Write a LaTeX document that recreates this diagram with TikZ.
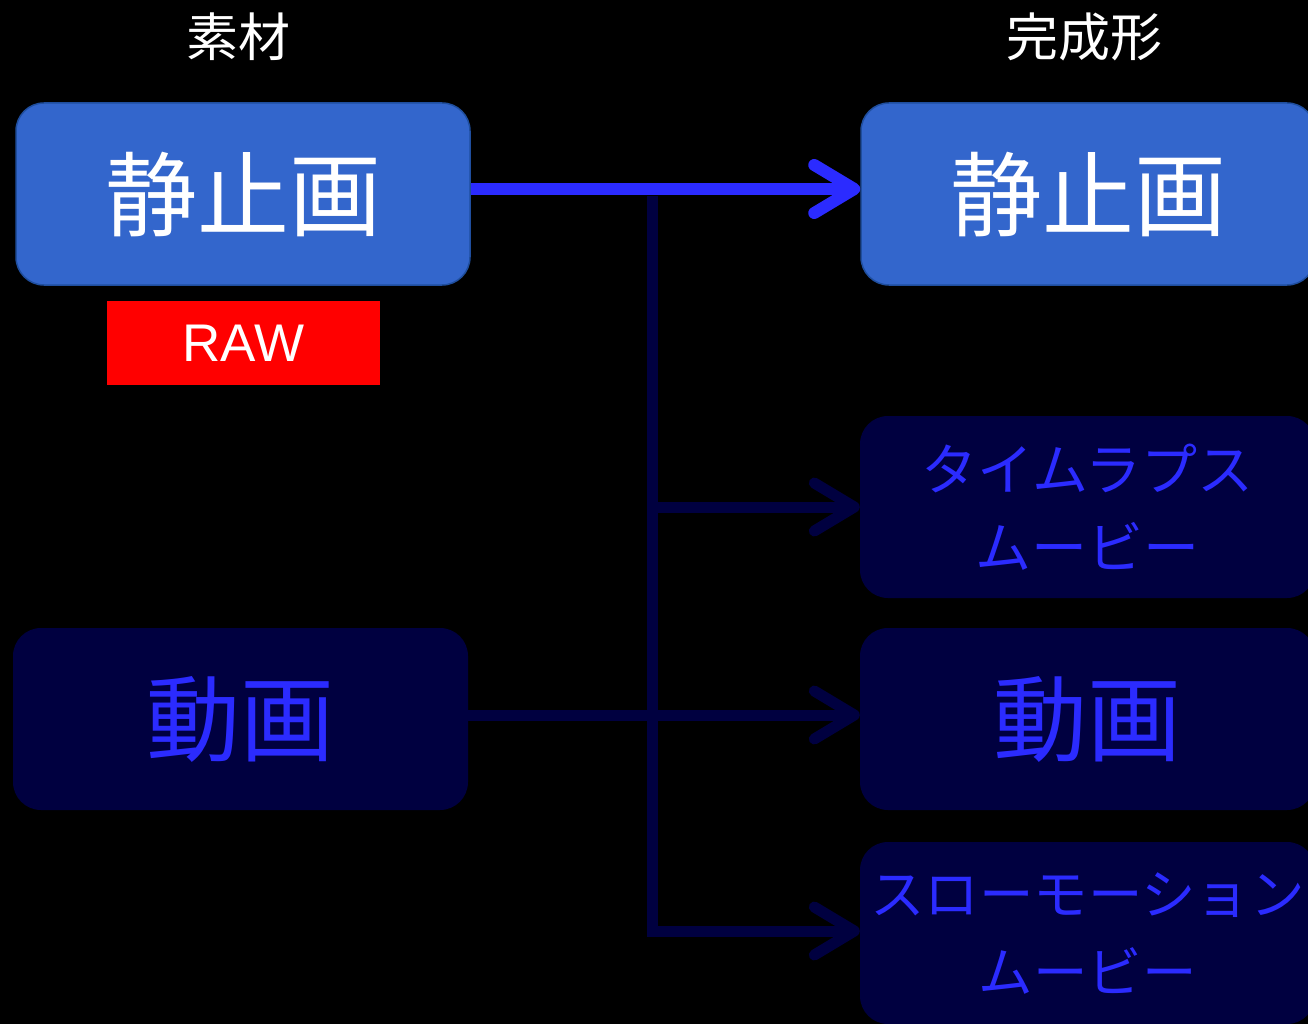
\documentclass[tikz,border=0pt]{standalone}
\usepackage{fontspec}
\newfontfamily\jp{Noto Sans CJK JP}
\newfontfamily\arialfont{Liberation Sans}
\usetikzlibrary{arrows.meta}
\definecolor{lightblue}{HTML}{3366CC}
\definecolor{lightedge}{HTML}{1F4E9E}
\definecolor{navy}{HTML}{000040}
\definecolor{brightblue}{HTML}{2B2BFF}
\tikzset{
  x=1pt, y=-1pt,
  bluebox/.style={draw=lightedge, line width=1.5pt, fill=lightblue, rounded corners=28pt,
    minimum width=454pt, minimum height=182pt, inner sep=0pt, text=white,
    font=\jp\fontsize{92}{100}\selectfont},
  navybox/.style={fill=navy, rounded corners=28pt,
    minimum width=455pt, minimum height=182pt, inner sep=0pt, text=brightblue, align=center},
  bigtext/.style={font=\jp\fontsize{94}{100}\selectfont},
  smalltext/.style={font=\jp\fontsize{56}{78}\selectfont},
  slowtext/.style={font=\jp\fontsize{54.5}{78}\selectfont},
  header/.style={text=white, font=\jp\fontsize{52}{60}\selectfont},
  mainarrow/.style={draw=brightblue, line width=12pt,
    -{Straight Barb[length=40pt, width=48pt, line cap=round, line join=round]}},
  navyline/.style={draw=navy, line width=11pt},
  navyarrow/.style={navyline, -{Straight Barb[length=40pt, width=48pt, line cap=round, line join=round]}},
}
\begin{document}
\begin{tikzpicture}
\fill[black] (0,0) rectangle (1308,1024);
\useasboundingbox (0,0) rectangle (1308,1024);
\clip (0,0) rectangle (1308,1024);

\node[header] (h1) at (238,37) {素材};
\node[header] (h2) at (1084,37) {完成形};

\node[bluebox] (lstill) at (243,194) {静止画};
\node[bluebox] (rstill) at (1088,194) {静止画};

\node[fill=red, minimum width=273pt, minimum height=84pt, inner sep=0pt,
      text=white, font=\arialfont\fontsize{53}{60}\selectfont] (raw) at (243.5,343) {RAW};

\node[navybox, smalltext] (tl) at (1087.5,507) {タイムラプス\\ムービー};
\node[navybox, bigtext] (ldoga) at (240.5,719) {動画};
\node[navybox, bigtext] (rdoga) at (1087.5,719) {動画};
\node[navybox, slowtext] (slow) at (1087.5,933) {スローモーション\\ムービー};

\coordinate (j0) at (652,196);

\draw[navyline] (j0) |- ([xshift=-20pt,yshift=2pt]slow.west);
\draw[navyarrow] (j0 |- tl.west) -- (tl.west);
\draw[navyarrow] ([yshift=4pt]ldoga.east) -- ([yshift=4pt]rdoga.west);
\draw[navyarrow] ([xshift=-205pt,yshift=2pt]slow.west) -- ([yshift=2pt]slow.west);

\draw[mainarrow] ([yshift=5pt]lstill.east) -- ([yshift=5pt]rstill.west);
\end{tikzpicture}
\end{document}
